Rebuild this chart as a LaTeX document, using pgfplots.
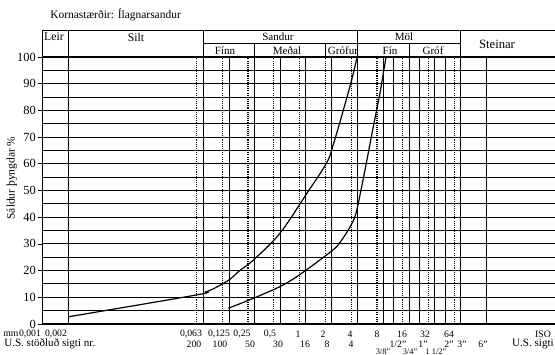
\documentclass[border=0pt]{standalone}
\usepackage{fontspec}
\setmainfont{Liberation Serif}
\usepackage{pgfplots}
\pgfplotsset{compat=1.18}
\begin{document}
\begin{tikzpicture}[every node/.style={font=\fontsize{8.3}{9}\selectfont, inner sep=0pt},
  bl/.style={font=\fontsize{7.3}{8}\selectfont}]
\begin{axis}[
  at={(0,0)}, anchor=south west,
  scale only axis, width=385.5pt, height=200.25pt,
  xmode=log, xmin=0.001, xmax=1000, ymin=0, ymax=100,
  xtick=\empty,
  ytick={0,10,...,100}, ytick pos=left, tick align=outside,
  major tick length=3.75pt,
  minor ytick={5,15,...,95}, minor tick length=0pt,
  ymajorgrids, yminorgrids,
  major grid style={black, line width=0.7pt},
  minor grid style={black, line width=0.7pt},
  axis line style={black, line width=0.8pt},
  tick style={black, line width=0.6pt},
  clip=false,
  /pgf/number format/assume math mode=true,
  yticklabel style={font=\fontsize{9.3}{10}\selectfont, inner sep=1.2pt},
]
\pgfplotsinvokeforeach{0.002,0.075,0.15,0.3,0.6,1.18,2.36,4.75,9.5,12.5,19,25,37.5,50,75,150}{
  \draw[black, line width=0.6pt] (axis cs:#1,0) -- (axis cs:#1,100);}
\pgfplotsinvokeforeach{0.063,0.125,0.25,0.5,1,2,4,8,16,32,64}{
  \draw[black, line width=0.9pt, dash pattern=on 0.8pt off 0.8pt] (axis cs:#1,0) -- (axis cs:#1,100);}
% header
\draw[black, line width=0.7pt] (axis cs:0.001,100) -- (axis cs:0.001,110.1) -- (axis cs:1000,110.1);
\pgfplotsinvokeforeach{0.002,0.075,4.75,75}{
  \draw[black, line width=0.7pt] (axis cs:#1,100) -- (axis cs:#1,110.1);}
\draw[black, line width=0.7pt] (axis cs:0.075,104.9) -- (axis cs:75,104.9);
\pgfplotsinvokeforeach{0.3,2,19}{
  \draw[black, line width=0.7pt] (axis cs:#1,100) -- (axis cs:#1,104.9);}
% curves
\addplot[black, line width=0.9pt, smooth, tension=0.55] coordinates {
  (0.002,2.7) (0.063,10.9) (0.08,12.0) (0.1,13.3) (0.15,16.5) (0.2,20)
  (0.29,24.0) (0.59,34.0) (1.22,49.0) (2.08,60.5) (2.49,67.5) (3.24,80.1)
  (4.05,91.4) (4.7,100)};
\addplot[black, line width=0.9pt, smooth, tension=0.45] coordinates {
  (0.147,5.9) (0.288,9.6) (0.59,14) (0.925,17.7) (1.73,24) (2.71,29)
  (3.70,35.2) (4.43,40.2) (4.84,45.2) (5.80,57.7) (7.25,73.9) (8.67,86.4) (10.2,100)};
\end{axis}
\begin{scope}[x=0.75pt, y=-0.75pt, shift={(-42.6,-324)}]
  \node[anchor=west, font=\fontsize{8.6}{9}\selectfont] at (50,15) {Kornastærðir: Ílagnarsandur};
  \node[rotate=90, font=\fontsize{8.6}{9}\selectfont] at (12,178) {Sáldur þyngdar \%};
  % header texts
  \node[font=\fontsize{8.8}{9}\selectfont] at (54,37) {Leir};
  \node[font=\fontsize{8.8}{9}\selectfont] at (136,37) {Silt};
  \node at (278,37) {Sandur};
  \node at (225,50.5) {Fínn};
  \node at (287,50.5) {Meðal};
  \node at (343,50.5) {Grófur};
  \node at (404,37) {Möl};
  \node at (390,50.5) {Fín};
  \node at (433,50.5) {Gróf};
  \node[font=\fontsize{9.5}{10}\selectfont] at (497,44) {Steinar};
  % bottom row 1
  \node[bl, anchor=west] at (3,334) {mm};
  \node[bl] at (30,334) {0,001};
  \node[bl] at (56,334) {0,002};
  \node[bl] at (191,334) {0,063};
  \node[bl] at (219,334) {0,125};
  \node[bl] at (242,334) {0,25};
  \node[bl] at (270,334) {0,5};
  \node[bl] at (298,334) {1};
  \node[bl] at (323,334) {2};
  \node[bl] at (350,334) {4};
  \node[bl] at (377,334) {8};
  \node[bl] at (402,334) {16};
  \node[bl] at (425,334) {32};
  \node[bl] at (449,334) {64};
  \node[bl] at (543,334) {ISO};
  % bottom row 2
  \node[anchor=west] at (4,344) {U.S. stöðluð sigti nr.};
  \node[bl] at (194,344) {200};
  \node[bl] at (220,344) {100};
  \node[bl] at (250,344) {50};
  \node[bl] at (278,344) {30};
  \node[bl] at (305,344) {16};
  \node[bl] at (327,344) {8};
  \node[bl] at (351,344) {4};
  \node[bl] at (398,344) {1/2"};
  \node[bl] at (423,344) {1"};
  \node[bl] at (449,344) {2"};
  \node[bl] at (462,344) {3"};
  \node[bl] at (483,344) {6"};
  \node[anchor=east] at (554,344) {U.S. sigti};
  % bottom row 3
  \node[font=\fontsize{6.3}{7}\selectfont] at (383,351.3) {3/8"};
  \node[font=\fontsize{6.3}{7}\selectfont] at (410,351.3) {3/4"};
  \node[font=\fontsize{6.3}{7}\selectfont] at (436,351.3) {1 1/2"};
  \pgfresetboundingbox
  \path[use as bounding box] (0,0) rectangle (555,354);
\end{scope}
\end{tikzpicture}
\end{document}
